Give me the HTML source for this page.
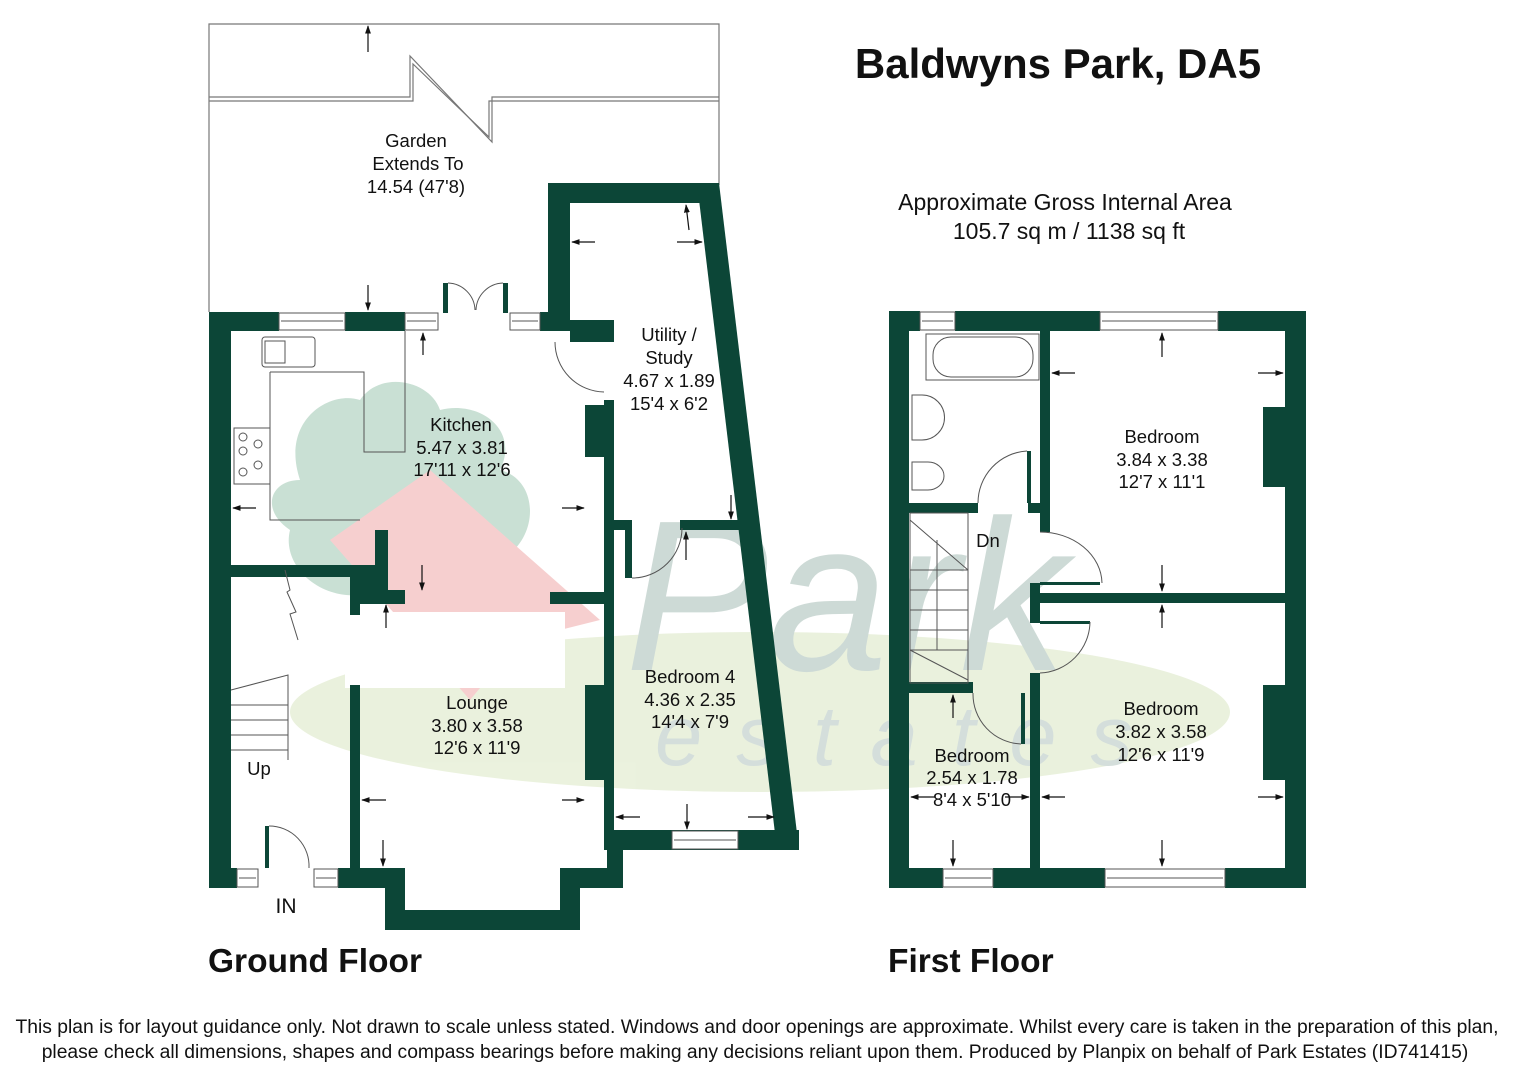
<!DOCTYPE html>
<html><head><meta charset="utf-8"><style>
html,body{margin:0;padding:0;background:#fff;}
svg{display:block;}
text{font-family:"Liberation Sans",Arial,sans-serif;fill:#111;}
</style></head><body>
<svg width="1521" height="1080" viewBox="0 0 1521 1080" xmlns="http://www.w3.org/2000/svg">
<defs>
<marker id="a" viewBox="0 0 10 10" refX="9" refY="5" markerWidth="7" markerHeight="7" orient="auto"><path d="M0,1.5 L10,5 L0,8.5Z" fill="#111"/></marker>
</defs>
<!-- watermark -->
<g opacity="0.7">
<ellipse cx="760" cy="712" rx="470" ry="80" fill="#e2ecd0"/>
<path d="M300,480 C280,420 330,390 360,400 C380,370 430,380 440,410 C480,400 520,430 500,470 C540,480 540,540 500,560 C470,600 420,600 380,590 C330,610 280,570 290,530 C260,510 270,480 300,480Z" fill="#b3d3c2"/>
<path d="M330,540 L430,470 L600,620 L520,640 L470,700 Z" fill="#f3bcbc"/>
<rect x="345" y="612" width="220" height="76" fill="#fff"/>
<text x="625" y="670" font-size="215" font-style="italic" font-family="Liberation Serif,serif" style="fill:#b9cbc5">Park</text>
<text x="655" y="765" font-size="85" font-style="italic" letter-spacing="34" font-family="Liberation Serif,serif" style="fill:#c2d1cd">estates</text>
</g>

<!-- Garden -->
<g fill="none" stroke="#777" stroke-width="1.2">
<polyline points="209,312 209,24 719,24 719,185"/>
<polyline points="209,97 410,97 410,56 492,142 492,97 719,97"/>
<polyline points="209,101 413,101 413,64 489,137 489,101 719,101"/>
</g>
<g stroke="#111" stroke-width="1.2">
<line x1="368" y1="52" x2="368" y2="26" marker-end="url(#a)"/>
<line x1="368" y1="285" x2="368" y2="310" marker-end="url(#a)"/>
</g>

<g fill="#0c4637">
<rect x="209" y="312" width="22" height="576"/>
<rect x="209" y="312" width="70" height="19"/>
<rect x="345" y="312" width="60" height="19"/>
<rect x="540" y="312" width="30" height="19"/>
<rect x="548" y="183" width="22" height="148"/>
<rect x="548" y="183" width="171" height="20"/>
<polygon points="697,183 719,183 799,850 777,850"/>
<rect x="570" y="320" width="44" height="22"/>
<rect x="604" y="400" width="10" height="450"/>
<rect x="585" y="405" width="22" height="52"/>
<rect x="585" y="685" width="22" height="95"/>
<rect x="607" y="830" width="192" height="20"/>
<rect x="607" y="830" width="16" height="58"/>
<rect x="560" y="868" width="63" height="20"/>
<rect x="385" y="868" width="20" height="62"/>
<rect x="560" y="868" width="20" height="62"/>
<rect x="385" y="910" width="195" height="20"/>
<rect x="338" y="868" width="67" height="20"/>
<rect x="209" y="868" width="28" height="20"/>
<rect x="350" y="685" width="10" height="203"/>
<rect x="350" y="598" width="10" height="17"/>
<rect x="231" y="565" width="157" height="12"/>
<rect x="375" y="530" width="13" height="72"/>
<rect x="350" y="575" width="38" height="27"/>
<rect x="350" y="590" width="55" height="14"/>
<rect x="550" y="592" width="57" height="12"/>
<rect x="680" y="520" width="78" height="10"/>
<rect x="614" y="520" width="16" height="10"/>
<rect x="625" y="520" width="7" height="58"/>
<rect x="265" y="826" width="4" height="42"/>
<rect x="443" y="283" width="5" height="30"/>
<rect x="503" y="283" width="5" height="30"/>

<rect x="889" y="311" width="20" height="577"/>
<rect x="1285" y="311" width="21" height="577"/>
<rect x="889" y="311" width="31" height="20"/>
<rect x="955" y="311" width="145" height="20"/>
<rect x="1218" y="311" width="88" height="20"/>
<rect x="889" y="868" width="54" height="20"/>
<rect x="993" y="868" width="112" height="20"/>
<rect x="1225" y="868" width="81" height="20"/>
<rect x="1040" y="331" width="10" height="201"/>
<rect x="909" y="503" width="69" height="10"/>
<rect x="1028" y="503" width="22" height="10"/>
<rect x="1027" y="451" width="4" height="52"/>
<rect x="1030" y="583" width="10" height="40"/>
<rect x="1030" y="593" width="255" height="10"/>
<rect x="1040" y="582" width="60" height="3"/>
<rect x="1040" y="621" width="50" height="3"/>
<rect x="1030" y="673" width="10" height="200"/>
<rect x="909" y="682" width="64" height="11"/>
<rect x="1021" y="693" width="4" height="51"/>
<rect x="1263" y="407" width="22" height="80"/>
<rect x="1263" y="685" width="22" height="95"/>
</g>

<g fill="#fff" stroke="#555" stroke-width="1">
<rect x="279" y="313" width="66" height="17"/><line x1="281" y1="321" x2="343" y2="321"/>
<rect x="405" y="313" width="33" height="17"/><line x1="407" y1="321" x2="436" y2="321"/>
<rect x="510" y="313" width="30" height="17"/><line x1="512" y1="321" x2="538" y2="321"/>
<rect x="237" y="869" width="21" height="18"/><line x1="239" y1="878" x2="256" y2="878"/>
<rect x="314" y="869" width="24" height="18"/><line x1="316" y1="878" x2="336" y2="878"/>
<rect x="672" y="831" width="66" height="18"/><line x1="674" y1="840" x2="736" y2="840"/>
<rect x="920" y="312" width="35" height="18"/><line x1="922" y1="321" x2="953" y2="321"/>
<rect x="1100" y="312" width="118" height="18"/><line x1="1102" y1="321" x2="1216" y2="321"/>
<rect x="943" y="869" width="50" height="18"/><line x1="945" y1="878" x2="991" y2="878"/>
<rect x="1105" y="869" width="120" height="18"/><line x1="1107" y1="878" x2="1223" y2="878"/>
</g>

<g fill="none" stroke="#555" stroke-width="1">
<path d="M448,283 A28,28 0 0 1 475,310"/>
<path d="M503,283 A28,28 0 0 0 476,310"/>
<rect x="262" y="337" width="53" height="30" rx="3"/>
<rect x="265" y="341" width="20" height="22"/>
<polyline points="270,372 364,372 364,452 405,452 405,331"/>
<polyline points="270,372 270,520 360,520"/>
<rect x="234" y="428" width="36" height="56"/>
<circle cx="243" cy="437" r="4"/><circle cx="258" cy="444" r="4"/><circle cx="243" cy="451" r="4"/><circle cx="258" cy="465" r="4"/><circle cx="243" cy="472" r="4"/>
<path d="M555,342 A50,50 0 0 0 604,392"/>
<path d="M632,578 A50,50 0 0 0 682,528"/>
<path d="M269,826 A40,40 0 0 1 309,868"/>
<polyline points="285,570 290,590 287,592 296,612 290,614 298,640"/>
<polyline points="231,690 288,675 288,760"/>
<line x1="231" y1="705" x2="288" y2="705"/><line x1="231" y1="720" x2="288" y2="720"/>
<line x1="231" y1="735" x2="288" y2="735"/><line x1="231" y1="750" x2="288" y2="750"/>
<rect x="926" y="334" width="113" height="46"/>
<rect x="933" y="337" width="100" height="40" rx="18"/>
<path d="M912,395 L912,440 L922,440 A22,22 0 0 0 922,395 Z"/>
<path d="M912,462 L928,462 A16,14 0 0 1 928,490 L912,490 Z"/>
<path d="M978,503 A52,52 0 0 1 1027,451"/>
<path d="M1040,532 A62,52 0 0 1 1102,583"/>
<path d="M1090,622 A52,52 0 0 1 1040,673"/>
<path d="M1021,744 A50,50 0 0 1 973,693"/>
<rect x="910" y="513" width="58" height="170"/>
<line x1="910" y1="520" x2="968" y2="570"/>
<line x1="910" y1="650" x2="968" y2="680"/>
<line x1="910" y1="570" x2="968" y2="570"/><line x1="910" y1="590" x2="968" y2="590"/>
<line x1="910" y1="610" x2="968" y2="610"/><line x1="910" y1="630" x2="968" y2="630"/>
<line x1="910" y1="650" x2="968" y2="650"/>
<line x1="937" y1="540" x2="937" y2="650"/>
</g>

<g stroke="#111" stroke-width="1.2" fill="none" marker-end="url(#a)">
<line x1="256" y1="508" x2="233" y2="508"/><line x1="562" y1="508" x2="584" y2="508"/>
<line x1="595" y1="242" x2="572" y2="242"/><line x1="677" y1="242" x2="702" y2="242"/>
<line x1="386" y1="800" x2="362" y2="800"/><line x1="562" y1="800" x2="584" y2="800"/>
<line x1="640" y1="817" x2="616" y2="817"/><line x1="748" y1="817" x2="774" y2="817"/>
<line x1="1075" y1="373" x2="1052" y2="373"/><line x1="1258" y1="373" x2="1283" y2="373"/>
<line x1="1065" y1="797" x2="1042" y2="797"/><line x1="1258" y1="797" x2="1283" y2="797"/>
<line x1="935" y1="797" x2="911" y2="797"/><line x1="1005" y1="797" x2="1029" y2="797"/>
<line x1="1162" y1="357" x2="1162" y2="333"/><line x1="1162" y1="565" x2="1162" y2="591"/>
<line x1="1162" y1="628" x2="1162" y2="605"/><line x1="1162" y1="840" x2="1162" y2="866"/>
<line x1="953" y1="718" x2="953" y2="695"/><line x1="953" y1="840" x2="953" y2="866"/>
<line x1="422" y1="565" x2="422" y2="590"/><line x1="383" y1="840" x2="383" y2="866"/>
<line x1="687" y1="804" x2="687" y2="829"/><line x1="731" y1="495" x2="731" y2="519"/>
<line x1="689" y1="230" x2="686" y2="205"/><line x1="423" y1="355" x2="423" y2="333"/>
<line x1="386" y1="628" x2="386" y2="605"/><line x1="686" y1="560" x2="686" y2="532"/>
</g>

<text x="1058" y="78" font-size="42" font-weight="bold" text-anchor="middle">Baldwyns Park, DA5</text>
<text x="1065" y="210" font-size="23" text-anchor="middle">Approximate Gross Internal Area</text>
<text x="1069" y="239" font-size="23" text-anchor="middle">105.7 sq m / 1138 sq ft</text>
<text x="208" y="972" font-size="33.5" font-weight="bold">Ground Floor</text>
<text x="888" y="972" font-size="33.5" font-weight="bold">First Floor</text>
<text x="757" y="1033" font-size="19.3" text-anchor="middle">This plan is for layout guidance only. Not drawn to scale unless stated. Windows and door openings are approximate. Whilst every care is taken in the preparation of this plan,</text>
<text x="755" y="1058" font-size="19.3" text-anchor="middle">please check all dimensions, shapes and compass bearings before making any decisions reliant upon them. Produced by Planpix on behalf of Park Estates (ID741415)</text>
<g font-size="18.5" text-anchor="middle">
<text x="416" y="147">Garden</text><text x="418" y="170">Extends To</text><text x="416" y="193">14.54 (47'8)</text>
<text x="461" y="431">Kitchen</text><text x="462" y="454">5.47 x 3.81</text><text x="462" y="476">17'11 x 12'6</text>
<text x="669" y="341">Utility /</text><text x="669" y="364">Study</text><text x="669" y="387">4.67 x 1.89</text><text x="669" y="410">15'4 x 6'2</text>
<text x="477" y="709">Lounge</text><text x="477" y="732">3.80 x 3.58</text><text x="477" y="754">12'6 x 11'9</text>
<text x="690" y="683">Bedroom 4</text><text x="690" y="706">4.36 x 2.35</text><text x="690" y="728">14'4 x 7'9</text>
<text x="259" y="775">Up</text>
<text x="286" y="913" font-size="21">IN</text>
<text x="988" y="547">Dn</text>
<text x="1162" y="443">Bedroom</text><text x="1162" y="466">3.84 x 3.38</text><text x="1162" y="488">12'7 x 11'1</text>
<text x="1161" y="715">Bedroom</text><text x="1161" y="738">3.82 x 3.58</text><text x="1161" y="761">12'6 x 11'9</text>
<text x="972" y="762">Bedroom</text><text x="972" y="784">2.54 x 1.78</text><text x="972" y="806">8'4 x 5'10</text>
</g>
</svg>
</body></html>
